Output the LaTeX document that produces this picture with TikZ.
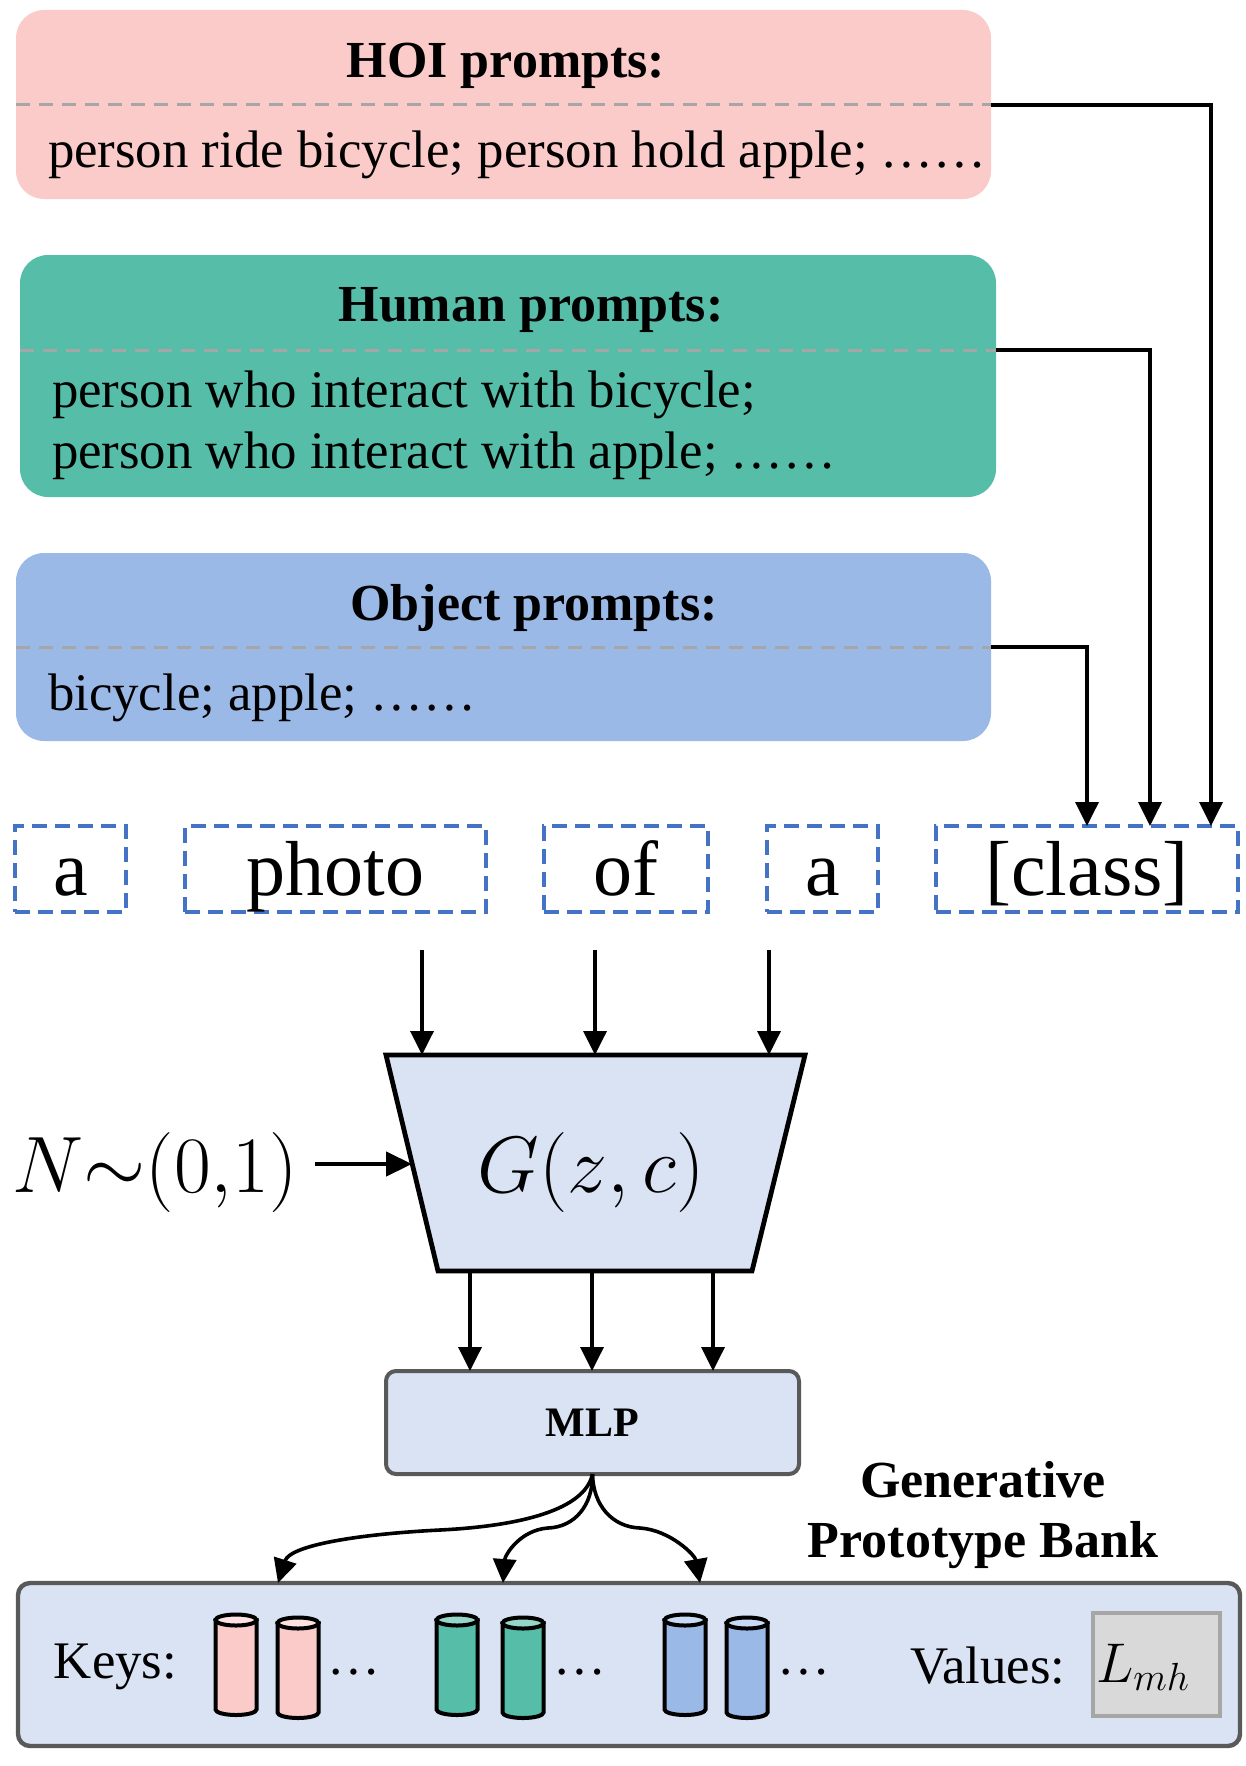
\RequirePackage{fix-cm}
\documentclass[tikz,border=0pt]{standalone}
\usepackage{fontspec}
\setmainfont{Liberation Serif}
\usetikzlibrary{arrows.meta}
\definecolor{hoipink}{HTML}{FBCBC9}
\definecolor{humgreen}{HTML}{55BDA8}
\definecolor{objblue}{HTML}{9BB9E7}
\definecolor{lightbg}{HTML}{DAE3F3}
\definecolor{sepgray}{HTML}{A6A6A6}
\definecolor{dashblue}{HTML}{4472C4}
\definecolor{boxgray}{HTML}{595959}
\definecolor{valgray}{HTML}{D9D9D9}
\definecolor{valborder}{HTML}{A6A6A6}
\definecolor{pinktop}{HTML}{FDE2E1}
\definecolor{greentop}{HTML}{95D6C8}
\definecolor{bluetop}{HTML}{C8DAF4}
\newcommand\keycyl[4]{%
  \filldraw[cylline, fill=#3] ({#1-20.5},#2) -- ({#1-20.5},{#2+89.5}) arc[start angle=180, end angle=360, x radius=10.25pt, y radius=2.75pt] -- ({#1+20.5},#2) -- cycle;
  \filldraw[cylline, fill=#4] (#1,#2) ellipse [x radius=10.25pt, y radius=2.75pt];
}
\begin{document}
\begin{tikzpicture}[x=0.5pt,y=-0.5pt,
  every node/.style={inner sep=0pt, outer sep=0pt},
  promptbox/.style={rectangle, rounded corners=14pt, minimum width=487.5pt},
  sepline/.style={sepgray, line width=1.5pt, dash pattern=on 7pt off 4.5pt},
  titletext/.style={font=\fontsize{26}{30}\selectfont\bfseries, anchor=base},
  bodytext/.style={font=\fontsize{26.4}{30}\selectfont, anchor=base west},
  wordbox/.style={draw=dashblue, line width=1.8pt, dash pattern=on 7.5pt off 4pt, minimum height=43pt, text height=33pt, text depth=7pt, font=\fontsize{39}{44}\selectfont},
  conn/.style={line width=1.8pt, -{Triangle[length=12pt,width=11.5pt]}},
  lightbox/.style={fill=lightbg, draw=boxgray, line width=2pt, rounded corners=5pt},
  cylline/.style={line width=2pt, draw=black},
]
\useasboundingbox (0,0) rectangle (1246,1766);

% prompt boxes
\node[promptbox, fill=hoipink, minimum height=94.5pt] (hoi) at (503.5,104.5) {};
\node[promptbox, fill=humgreen, minimum width=488pt, minimum height=121pt] (hum) at (508,376) {};
\node[promptbox, fill=objblue, minimum height=94pt] (obj) at (503.5,647) {};

\coordinate (hoisepL) at (hoi.west |- 0,105);
\coordinate (hoisep) at (hoi.east |- 0,105);
\coordinate (humsepL) at (hum.west |- 0,350);
\coordinate (humsep) at (hum.east |- 0,350);
\coordinate (objsepL) at (obj.west |- 0,647);
\coordinate (objsep) at (obj.east |- 0,647);
\draw[sepline] (hoisepL) -- (hoisep);
\draw[sepline] (humsepL) -- (humsep);
\draw[sepline] (objsepL) -- (objsep);

\node[titletext] (hoititle) at (506,78) {HOI prompts:};
\node[bodytext] (hoibody) at (48,168) {person ride bicycle; person hold apple; ……};
\node[titletext] (humtitle) at (531,321) {Human prompts:};
\node[bodytext] (humbody1) at (52,407) {person who interact with bicycle;};
\node[bodytext] (humbody2) at (52,468) {person who interact with apple; ……};
\node[titletext] (objtitle) at (534,620) {Object prompts:};
\node[bodytext] (objbody) at (48,710) {bicycle; apple; ……};

% word boxes
\node[wordbox, minimum width=55.5pt] (w1) at (70.5,869) {a};
\node[wordbox, minimum width=150.5pt] (w2) at (335.5,869) {photo};
\node[wordbox, minimum width=82pt] (w3) at (626,869) {of};
\node[wordbox, minimum width=55.5pt] (w4) at (822.5,869) {a};
\node[wordbox, minimum width=151pt] (cls) at (1087,869) {[class]};

\coordinate (t1) at (1087,0 |- cls.north);
\coordinate (t2) at (1150,0 |- cls.north);
\coordinate (t3) at (1211,0 |- cls.north);
\draw[conn] (objsep) -| (t1);
\draw[conn] (humsep) -| (t2);
\draw[conn] (hoisep) -| (t3);

% generator
\draw[fill=lightbg, line width=2.4pt, line join=miter] (386,1055) -- (805,1055) -- (752,1271) -- (438,1271) -- cycle;
\node[font=\fontsize{40}{46}\selectfont] (gen) at (591,1172) {$G(z,c)$};
\node[font=\fontsize{40}{46}\selectfont] (noise) at (155,1172) {$N{\sim}(0{,}1)$};

\coordinate (in1) at (422,950);
\coordinate (in2) at (595,950);
\coordinate (in3) at (769,950);
\coordinate (gt1) at (422,1055);
\coordinate (gt2) at (595,1055);
\coordinate (gt3) at (769,1055);
\draw[conn] (in1) -- (gt1);
\draw[conn] (in2) -- (gt2);
\draw[conn] (in3) -- (gt3);

\coordinate (nstart) at (315,1164);
\coordinate (nend) at (412,1164);
\draw[line width=2.2pt, -{Triangle[length=13pt,width=12pt]}] (nstart) -- (nend);

% MLP
\node[lightbox, minimum width=206.5pt, minimum height=51.5pt, font=\fontsize{21}{24}\selectfont\bfseries] (mlp) at (592.5,1422.5) {MLP};

\coordinate (gb1) at (470,1271);
\coordinate (gb2) at (592,1271);
\coordinate (gb3) at (713,1271);
\coordinate (mt1) at (470,0 |- mlp.north);
\coordinate (mt2) at (592,0 |- mlp.north);
\coordinate (mt3) at (713,0 |- mlp.north);
\draw[conn] (gb1) -- (mt1);
\draw[conn] (gb2) -- (mt2);
\draw[conn] (gb3) -- (mt3);

% bank
\node[lightbox, line width=2.2pt, rounded corners=6pt, minimum width=611pt, minimum height=81.5pt] (bank) at (629,1664.5) {};
\node[font=\fontsize{26}{30}\selectfont\bfseries, align=center] (banktitle) at (983,1515) {Generative\\Prototype Bank};

\coordinate (k1) at (278,0 |- bank.north);
\coordinate (k2) at (503,0 |- bank.north);
\coordinate (k3) at (700,0 |- bank.north);
\coordinate (c1) at (440,1530);
\coordinate (c2) at (548,1528);
\coordinate (c3) at (640,1528);
\draw[conn] (mlp.south) .. controls (585,1510) and (520,1526) .. (c1) .. controls (360,1534) and (290,1545) .. (k1);
\draw[conn] (mlp.south) .. controls (593,1505) and (575,1527) .. (c2) .. controls (520,1530) and (505,1555) .. (k2);
\draw[conn] (mlp.south) .. controls (593,1505) and (612,1527) .. (c3) .. controls (670,1530) and (695,1555) .. (k3);

\node[bodytext] (keys) at (54,1678) {Keys:};
\keycyl{236}{1620}{hoipink}{pinktop}
\keycyl{298}{1623}{hoipink}{pinktop}
\keycyl{457}{1620}{humgreen}{greentop}
\keycyl{523}{1623}{humgreen}{greentop}
\keycyl{685}{1620}{objblue}{bluetop}
\keycyl{747}{1623}{objblue}{bluetop}
\node[bodytext] (dots1) at (327,1674) {…};
\node[bodytext] (dots2) at (553,1674) {…};
\node[bodytext] (dots3) at (777,1674) {…};

\node[bodytext] (values) at (910,1683) {Values:};
\node[fill=valgray, draw=valborder, line width=2pt, minimum width=63.5pt, minimum height=51.5pt] (valbox) at (1156.5,1664.5) {};
\node[font=\fontsize{28}{32}\selectfont, anchor=base] (lmh) at (1143,1682) {$L_{mh}$};
\end{tikzpicture}
\end{document}
